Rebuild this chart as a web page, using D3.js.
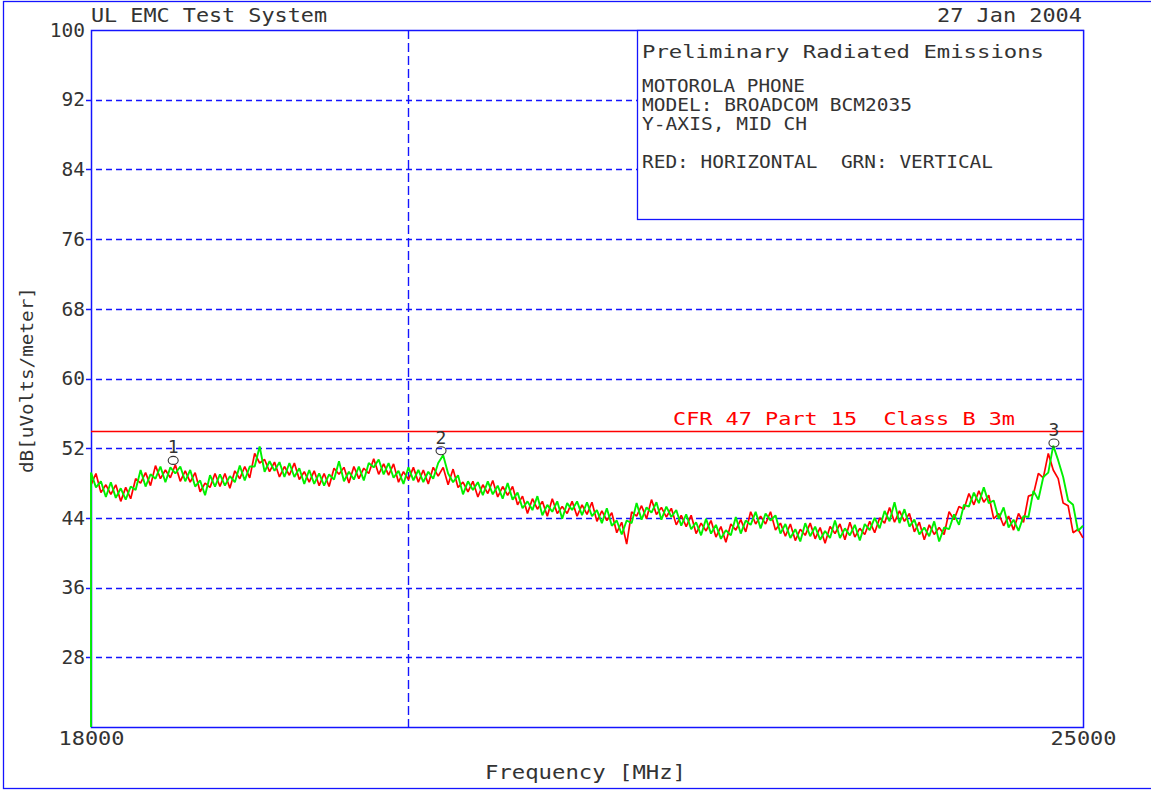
<!DOCTYPE html>
<html><head><meta charset="utf-8">
<script src="https://cdn.jsdelivr.net/npm/d3@7"></script>
<style>
body{margin:0;background:#fff}
svg{display:block}
text{font-family:"DejaVu Sans Mono",monospace;fill:#333;white-space:pre}
</style>
</head><body>
<svg id="chart" width="1151" height="790"></svg>
<script>
// ---------------- data ----------------
const FREQ_START = 18000, FREQ_STOP = 25000, FREQ_STEP = 35;
const Y_MIN = 20, Y_MAX = 100;
const yTickValues = [28, 36, 44, 52, 60, 68, 76, 84, 92, 100];
const xTickValues = [18000, 25000];
const limitLevel = 54;
const limitLabel = "CFR 47 Part 15  Class B 3m";
const rangeDivider = 20240;
const greenStartLevel = 20;

const redHorizontal = [
47.8,49.1,46.9,47.8,46.7,47.8,45.9,47.5,46.2,48.5,
48.0,49.2,47.7,50.0,48.5,49.5,48.6,50.1,48.2,49.4,
48.1,49.2,47.0,48.0,47.5,49.1,47.6,49.1,47.4,49.4,
48.5,49.9,48.6,51.4,50.3,50.7,49.3,50.4,48.7,49.9,
48.9,50.3,48.4,49.3,48.1,49.4,47.7,49.1,47.6,49.7,
49.0,49.8,48.0,49.9,48.5,49.7,49.1,50.8,49.0,50.2,
48.9,50.2,48.1,49.3,48.4,49.8,48.1,49.5,47.9,49.8,
48.8,49.8,47.8,49.6,47.5,48.1,47.0,48.2,46.4,47.8,
46.8,48.3,46.4,47.6,46.6,47.6,45.5,46.5,44.5,46.2,
45.0,45.9,44.2,46.2,44.5,45.3,44.5,45.9,44.2,45.5,
44.4,45.8,43.6,44.8,43.7,44.6,42.3,43.5,41.0,44.7,
44.2,45.4,43.9,46.1,44.4,45.2,44.1,45.1,43.2,44.3,
43.0,44.3,42.2,43.4,42.5,43.7,41.8,43.0,41.2,43.3,
42.6,43.8,42.4,44.7,43.3,44.2,43.3,44.7,42.6,43.4,
41.9,43.3,41.4,42.7,42.0,43.4,41.6,42.9,41.1,43.0,
42.2,43.3,41.5,43.5,41.8,42.8,42.1,43.6,42.3,44.0,
43.4,45.2,43.5,44.8,43.6,44.5,42.4,43.5,41.5,43.2,
42.1,42.9,42.1,44.7,43.8,45.3,45.0,46.8,45.5,47.1,
45.8,46.6,43.9,44.5,43.1,44.2,42.6,44.5,43.5,46.5,
46.7,49.1,48.6,51.4,49.5,48.5,45.7,45.4,42.3,42.7,41.7
];

const greenVertical = [
49.2,47.5,48.2,46.4,48.1,46.3,47.4,46.1,47.6,47.2,
49.5,47.6,49.0,48.5,49.9,48.1,49.8,49.1,49.9,48.2,
49.5,47.6,48.3,46.6,48.9,47.6,49.0,47.7,48.8,48.1,
50.0,48.3,49.9,49.9,52.2,49.3,50.5,49.4,50.4,48.7,
50.3,48.7,49.7,47.9,49.5,47.9,49.1,47.7,49.0,48.4,
50.5,48.2,49.3,48.4,49.9,48.3,50.3,49.8,50.7,49.0,
50.3,48.6,49.4,47.9,49.8,48.3,49.5,48.1,49.3,48.5,
50.3,51.2,49.1,48.1,48.9,46.7,48.2,47.2,48.1,46.6,
48.2,46.7,47.7,46.2,48.0,46.1,46.9,45.1,45.9,44.9,
46.5,44.3,45.5,44.7,45.9,43.9,45.7,44.9,45.9,44.3,
45.8,44.2,44.9,43.4,45.1,43.1,43.7,42.1,43.7,43.4,
45.7,43.8,45.2,44.6,45.8,43.8,45.3,44.1,44.9,43.1,
44.4,42.7,43.5,42.0,43.9,42.2,43.2,41.6,42.6,42.0,
44.1,42.2,43.7,43.2,44.7,42.8,44.5,43.7,44.3,42.2,
43.3,41.7,42.7,41.3,43.4,41.9,43.0,41.5,42.5,41.7,
43.7,41.7,42.8,42.0,43.2,41.4,43.3,42.6,44.0,42.8,
44.8,43.6,45.8,43.4,45.0,43.0,43.8,42.1,42.9,41.9,
43.6,41.3,42.9,42.7,44.4,43.2,45.5,45.3,46.9,45.7,
47.5,45.7,46.0,43.9,45.2,42.9,43.8,42.5,44.2,44.1,
47.1,46.1,48.7,49.2,52.3,50.6,48.7,46.0,45.5,42.5,43.1
];

const markerNames = ["1", "2", "3"];
const markerFreqs = [18580, 20470, 24795];
const markerLevels = [50.6, 51.7, 52.6];

const headerLeft = "UL EMC Test System";
const headerRight = "27 Jan 2004";
const legendTitle = "Preliminary Radiated Emissions";
const legendLines = ["MOTOROLA PHONE", "MODEL: BROADCOM BCM2035", "Y-AXIS, MID CH", "", "RED: HORIZONTAL  GRN: VERTICAL"];
const legendWidths = [163, 270, 165, 0, 351];
const yAxisTitle = "dB[uVolts/meter]";
const xAxisTitle = "Frequency [MHz]";

// ---------------- drawing ----------------
const BLUE = "#1414ff", RED = "#ff0000", GREEN = "#00f000";
const L = 91, T = 30, R = 1083, B = 727;
const svg = d3.select("#chart");

const x = d3.scaleLinear().domain([FREQ_START, FREQ_STOP]).range([L, R]);
const y = d3.scaleLinear().domain([Y_MIN, Y_MAX]).range([B, T]);
const px = v => Math.round(v) + 0.5;

// outer frame
svg.append("rect").attr("x", 3.5).attr("y", 1.5).attr("width", 1170).attr("height", 787)
  .attr("fill", "none").attr("stroke", BLUE).attr("stroke-width", 1.3);

// horizontal grid
svg.append("g").selectAll("line").data(yTickValues.filter(v => v < Y_MAX)).join("line")
  .attr("x1", L - 5).attr("x2", R)
  .attr("y1", d => px(y(d))).attr("y2", d => px(y(d)))
  .attr("stroke", BLUE).attr("stroke-width", 1.4).attr("stroke-dasharray", "6,4");

// vertical divider
svg.append("line").attr("x1", px(x(rangeDivider))).attr("x2", px(x(rangeDivider)))
  .attr("y1", T).attr("y2", B).attr("stroke", BLUE).attr("stroke-width", 1.4).attr("stroke-dasharray", "9,4");

// y axis labels
const yAxis = d3.axisLeft(y).tickValues(yTickValues).tickSize(0).tickPadding(6).tickFormat(d3.format("d"));
const gy = svg.append("g").attr("transform", `translate(${L},0)`).call(yAxis);
gy.select(".domain").remove();
gy.selectAll("text").attr("font-size", 19.5).attr("fill", "#333")
  .style("font-family", '"DejaVu Sans Mono",monospace');

// x axis labels
const xAxis = d3.axisBottom(x).tickValues(xTickValues).tickSize(0).tickPadding(4).tickFormat(d3.format("d"));
const gx = svg.append("g").attr("transform", `translate(0,${B})`).call(xAxis);
gx.select(".domain").remove();
gx.selectAll("text").attr("font-size", 19).attr("fill", "#333")
  .attr("textLength", 66).attr("lengthAdjust", "spacingAndGlyphs")
  .style("font-family", '"DejaVu Sans Mono",monospace');

// plot frame (drawn before traces so the green start line shows over it)
svg.append("rect").attr("x", L + 0.5).attr("y", T + 0.5).attr("width", R - L).attr("height", B - T)
  .attr("fill", "none").attr("stroke", BLUE).attr("stroke-width", 1.5);

// limit line
svg.append("line").attr("x1", L).attr("x2", R)
  .attr("y1", px(y(limitLevel))).attr("y2", px(y(limitLevel)))
  .attr("stroke", RED).attr("stroke-width", 1.4);
svg.append("text").text(limitLabel).attr("x", 673).attr("y", 425)
  .attr("font-size", 18).style("fill", RED)
  .attr("textLength", 342).attr("lengthAdjust", "spacingAndGlyphs");

// traces
const line = d3.line().x(d => x(d[0])).y(d => y(d[1]));
const redPts = redHorizontal.map((v, i) => [FREQ_START + i * FREQ_STEP, v]);
const greenPts = [[FREQ_START, greenStartLevel]].concat(greenVertical.map((v, i) => [FREQ_START + i * FREQ_STEP, v]));
svg.append("path").datum(redPts).attr("d", line).attr("fill", "none")
  .attr("stroke", RED).attr("stroke-width", 1.7).attr("stroke-linejoin", "bevel");
svg.append("path").datum(greenPts).attr("d", line).attr("fill", "none")
  .attr("stroke", GREEN).attr("stroke-width", 1.9).attr("stroke-linejoin", "bevel");

// markers
const mk = svg.append("g");
markerNames.forEach((name, i) => {
  const mx = x(markerFreqs[i]), my = y(markerLevels[i]);
  mk.append("ellipse").attr("cx", mx).attr("cy", my).attr("rx", 5).attr("ry", 4)
    .attr("fill", "none").attr("stroke", "#333").attr("stroke-width", 1.1);
  mk.append("text").text(name).attr("x", mx).attr("y", my - 7)
    .attr("text-anchor", "middle").attr("font-size", 18);
});

// header texts
svg.append("text").text(headerLeft).attr("x", 91).attr("y", 22).attr("font-size", 19)
  .attr("textLength", 236).attr("lengthAdjust", "spacingAndGlyphs");
svg.append("text").text(headerRight).attr("x", 937).attr("y", 22).attr("font-size", 19)
  .attr("textLength", 145).attr("lengthAdjust", "spacingAndGlyphs");

// legend box
svg.append("rect").attr("x", 637.5).attr("y", T + 0.5).attr("width", R - 637).attr("height", 189)
  .attr("fill", "#fff").attr("stroke", BLUE).attr("stroke-width", 1.3);
svg.append("text").text(legendTitle).attr("x", 642).attr("y", 58).attr("font-size", 18)
  .attr("textLength", 402).attr("lengthAdjust", "spacingAndGlyphs");
legendLines.forEach((s, i) => {
  if (!s) return;
  svg.append("text").text(s).attr("x", 642).attr("y", 92 + i * 19).attr("font-size", 17.5)
    .attr("textLength", legendWidths[i]).attr("lengthAdjust", "spacingAndGlyphs");
});

// axis titles
svg.append("text").text(yAxisTitle).attr("transform", "translate(33,380) rotate(-90)")
  .attr("text-anchor", "middle").attr("font-size", 18)
  .attr("textLength", 186).attr("lengthAdjust", "spacingAndGlyphs");
svg.append("text").text(xAxisTitle).attr("x", 485).attr("y", 779)
  .attr("font-size", 19).attr("textLength", 201).attr("lengthAdjust", "spacingAndGlyphs");
</script>
</body></html>
